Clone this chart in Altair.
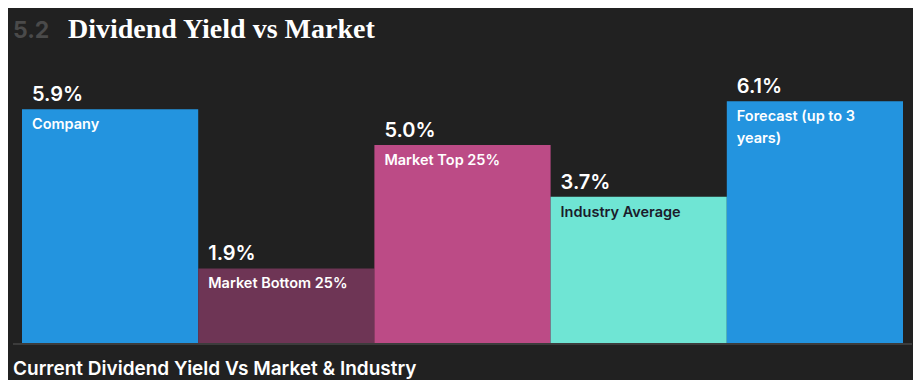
import altair as alt
import pandas as pd

categories = ["Company", "Market Bottom 25%", "Market Top 25%", "Industry Average", "Forecast (up to 3\nyears)"]
values = [5.9, 1.9, 5.0, 3.7, 6.1]
value_labels = ["5.9%", "1.9%", "5.0%", "3.7%", "6.1%"]
colors = ["#2394DF", "#6E3555", "#BC4B86", "#6FE5D4", "#2394DF"]
label_colors = ["#FFFFFF", "#FFFFFF", "#FFFFFF", "#1B1B2B", "#FFFFFF"]

df = pd.DataFrame({
    "cat": categories,
    "start": list(range(len(categories))),
    "end": [i + 1 for i in range(len(categories))],
    "value": values,
    "vlabel": value_labels,
    "color": colors,
    "lcolor": label_colors,
    "zero": [0] * len(categories),
})

W, H = 905, 372
xscale = alt.Scale(domain=[-14 / 176.2, (W - 14) / 176.2], nice=False, zero=False)
yscale = alt.Scale(domain=[-(H - 336) / 39.8, 336 / 39.8], nice=False, zero=False)

base = alt.Chart(df)

bars = base.mark_rect().encode(
    x=alt.X("start:Q", scale=xscale, axis=None),
    x2="end:Q",
    y=alt.Y("zero:Q", scale=yscale, axis=None),
    y2="value:Q",
    color=alt.Color("color:N", scale=None, legend=None),
)

vals = base.mark_text(align="left", baseline="alphabetic", dx=10, dy=-8,
                      font="Inter", fontSize=20, fontWeight=600, color="#FFFFFF").encode(
    x=alt.X("start:Q", scale=xscale, axis=None),
    y=alt.Y("value:Q", scale=yscale, axis=None),
    text="vlabel:N",
)

labels = base.mark_text(align="left", baseline="top", dx=10, dy=9, lineBreak="\n", lineHeight=22,
                        font="Inter", fontSize=14.5, fontWeight=600).encode(
    x=alt.X("start:Q", scale=xscale, axis=None),
    y=alt.Y("value:Q", scale=yscale, axis=None),
    text="cat:N",
    color=alt.Color("lcolor:N", scale=None, legend=None),
)

baseline = base.mark_rule(color="#3C3C3C", strokeWidth=2).encode(
    x=alt.value(5), x2=alt.value(904),
    y=alt.Y("zero:Q", scale=yscale, axis=None),
)

hdr = pd.DataFrame({"t": ["x"]})
num = alt.Chart(hdr).mark_text(text="5.2", align="left", baseline="alphabetic",
                               font="Inter", fontSize=23, fontWeight=700, color="#4A4A4A").encode(
    x=alt.value(5), y=alt.value(30))
title = alt.Chart(hdr).mark_text(text="Dividend Yield vs Market", align="left", baseline="alphabetic",
                                 font="Liberation Serif", fontSize=28, fontWeight=700, color="#FFFFFF").encode(
    x=alt.value(60), y=alt.value(30))
caption = alt.Chart(hdr).mark_text(text="Current Dividend Yield Vs Market & Industry", align="left",
                                   baseline="alphabetic", font="Inter", fontSize=19, fontWeight=600,
                                   color="#FFFFFF").encode(
    x=alt.value(5), y=alt.value(367))

chart = alt.layer(bars, baseline, vals, labels, num, title, caption).properties(
    width=W, height=H, background="#212121", padding=0, autosize=alt.AutoSizeParams(type="none")
).configure_view(stroke=None)

chart.save("out.html", embed_options={"renderer": "svg", "actions": False})
